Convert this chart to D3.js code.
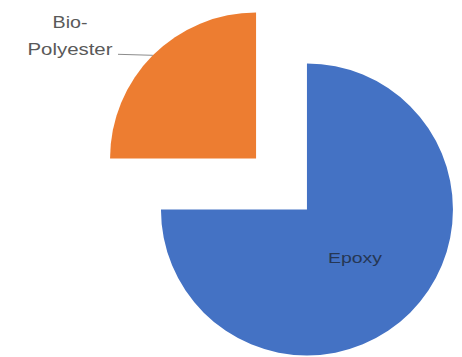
<!DOCTYPE html>
<html><head><meta charset="utf-8">
<script src="https://cdn.jsdelivr.net/npm/d3@7"></script>
<style>html,body{margin:0;padding:0;background:#fff;}svg{display:block;}</style>
</head><body>
<svg id="chart" width="462" height="357"></svg>
<script>
const categories = ["Epoxy", "Bio-Polyester"];
const values = [75, 25];
const colors = ["#4472C4", "#ED7D31"];

const svg = d3.select("#chart");
const cx = 281.5, cy = 184, R = 146, explode = 36;

const pie = d3.pie().sort(null).startAngle(0).endAngle(2 * Math.PI);
const arcs = pie(values);
const arc = d3.arc().innerRadius(0).outerRadius(R);

function offset(d, dist) {
  const a = (d.startAngle + d.endAngle) / 2;
  return [Math.sin(a) * dist, -Math.cos(a) * dist];
}

const g = svg.append("g").attr("transform", `translate(${cx},${cy})`);
g.selectAll("path").data(arcs).enter().append("path")
  .attr("d", arc)
  .attr("fill", (d, i) => colors[i])
  .attr("transform", d => { const o = offset(d, explode); return `translate(${o[0]},${o[1]})`; });

// Epoxy label inside
const ep = arcs[0];
const eo = offset(ep, explode);
const lp = offset(ep, explode + 68);
g.append("text")
  .attr("x", lp[0]).attr("y", lp[1] + 5)
  .attr("text-anchor", "middle")
  .attr("font-family", "Liberation Sans, Arial, sans-serif")
  .attr("font-size", 15)
  .attr("fill", "#263754")
  .attr("textLength", 54).attr("lengthAdjust", "spacingAndGlyphs")
  .text(categories[0]);

// Bio-Polyester label outside with leader line
const bp = arcs[1];
const bo = offset(bp, explode);
const edge = offset(bp, explode + R);
g.append("line")
  .attr("x1", edge[0]).attr("y1", edge[1])
  .attr("x2", 118 - cx).attr("y2", edge[1] - 1)
  .attr("stroke", "#8c8c8c").attr("stroke-width", 1);

const parts = categories[1].split("-");
const lab = g.append("text")
  .attr("text-anchor", "middle")
  .attr("font-family", "Liberation Sans, Arial, sans-serif")
  .attr("font-size", 17)
  .attr("fill", "#595959");
lab.append("tspan").attr("x", 70 - cx).attr("y", 28 - cy)
  .attr("textLength", 35).attr("lengthAdjust", "spacingAndGlyphs")
  .text(parts[0] + "-");
lab.append("tspan").attr("x", 70 - cx).attr("y", 55 - cy)
  .attr("textLength", 85).attr("lengthAdjust", "spacingAndGlyphs")
  .text(parts[1]);
</script>
</body></html>
